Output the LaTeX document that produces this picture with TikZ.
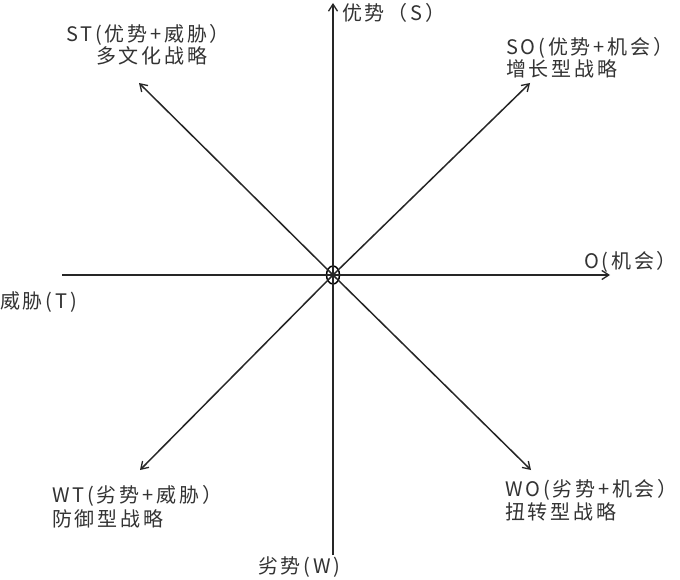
\documentclass[tikz,border=0pt]{standalone}
\usepackage{fontspec}
\setmainfont{Noto Sans CJK SC}[LetterSpace=14]
\usetikzlibrary{arrows.meta,shapes.geometric}
\begin{document}
\begin{tikzpicture}[x=1pt,y=-1pt,
  axis/.style={line width=1.5pt,draw=black!85},
  tip/.style={-{Straight Barb[length=7pt,width=9pt,line width=1.3pt]}},
  lbl/.style={font=\fontsize{20}{24}\selectfont,inner sep=0pt,anchor=west,text=black!80,align=left}]
\useasboundingbox (0,0) rectangle (680,580);
\fill[white] (0,0) rectangle (680,580);
% centre
\node[ellipse,draw,line width=1.5pt,minimum width=13pt,minimum height=18pt,inner sep=0pt] (O) at (333,275) {};
\coordinate (N) at (333,3);
\coordinate (Sb) at (333,555);
\coordinate (E) at (610,275);
\coordinate (Wl) at (62,275);
\coordinate (NE) at (530,83);
\coordinate (NW) at (139,83);
\coordinate (SW) at (140,470);
\coordinate (SE) at (531,470);
\coordinate (C) at (333,275);
% axes
\draw[axis,tip] (Sb) -- (N);
\draw[axis,tip] (Wl) -- (E);
\draw[axis,tip] (C) -- (NE);
\draw[axis,tip] (C) -- (NW);
\draw[axis,tip] (C) -- (SW);
\draw[axis,tip] (C) -- (SE);
% labels
\node[lbl] (lS) at (342,13) {优势（S）};
\node[lbl] (lST) at (66,35) {ST(优势+威胁）};
\node[lbl] (lST2) at (96,56) {多文化战略};
\node[lbl] (lSO) at (506,48) {SO(优势+机会）};
\node[lbl] (lSO2) at (506,69) {增长型战略};
\node[lbl] (lO) at (584,262) {O(机会）};
\node[lbl] (lT) at (0,302) {威胁(T)};
\node[lbl] (lWT) at (52,496) {WT(劣势+威胁）};
\node[lbl] (lWT2) at (52,519) {防御型战略};
\node[lbl] (lWO) at (505,490) {WO(劣势+机会）};
\node[lbl] (lWO2) at (505,512) {扭转型战略};
\node[lbl] (lW) at (258,567) {劣势(W)};
\end{tikzpicture}
\end{document}
